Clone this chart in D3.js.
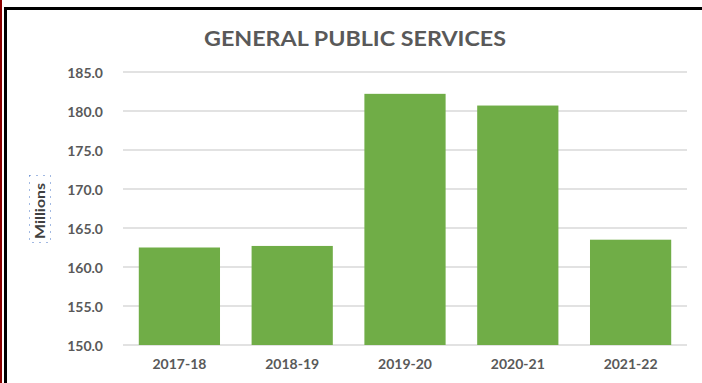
<!DOCTYPE html>
<html>
<head>
<meta charset="utf-8">
<script src="https://cdn.jsdelivr.net/npm/d3@7"></script>
<style>
  body { margin: 0; background: #fff; }
  text { font-family: Lato, "Liberation Sans", sans-serif; font-weight: bold; fill: #595959; }
</style>
</head>
<body>
<script>
// Width and height
var w = 702;
var h = 383;

// Data
var years = ["2017-18", "2018-19", "2019-20", "2020-21", "2021-22"];
var spending = [162.5, 162.7, 182.2, 180.7, 163.5];
var tickValues = [150, 155, 160, 165, 170, 175, 180, 185];

var svg = d3.select("body").append("svg").attr("width", w).attr("height", h);

// Frame (red and black edges on the left, black on top)
svg.append("rect").attr("x", 0).attr("y", 0).attr("width", 2).attr("height", h).attr("fill", "#8b0000");
svg.append("rect").attr("x", 4).attr("y", 7).attr("width", 3).attr("height", h - 7).attr("fill", "#000");
svg.append("rect").attr("x", 4).attr("y", 7).attr("width", w - 4).attr("height", 3).attr("fill", "#000");

var xScale = d3.scaleBand().domain(years).range([123, 687]).paddingInner(0.28).paddingOuter(0.14);
var yScale = d3.scaleLinear().domain([150, 185]).range([345, 72]);

// Gridlines
svg.append("g")
  .selectAll("line")
  .data(tickValues)
  .enter()
  .append("line")
  .attr("x1", 123)
  .attr("x2", 687)
  .attr("y1", function (d) { return yScale(d); })
  .attr("y2", function (d) { return yScale(d); })
  .attr("stroke", "#d9d9d9")
  .attr("stroke-width", 1.5);

// Bars
svg.append("g")
  .selectAll("rect")
  .data(spending)
  .enter()
  .append("rect")
  .attr("x", function (d, i) { return xScale(years[i]); })
  .attr("y", function (d) { return yScale(d); })
  .attr("width", xScale.bandwidth())
  .attr("height", function (d) { return yScale(150) - yScale(d); })
  .attr("fill", "#70ad47");

// Y axis
var yAxis = d3.axisLeft(yScale).tickValues(tickValues).tickFormat(d3.format(".1f")).tickSize(0).tickPadding(0);
var gy = svg.append("g").attr("transform", "translate(103,0)").call(yAxis);
gy.select(".domain").remove();
gy.selectAll("text").attr("font-size", 14).attr("font-family", null).attr("fill", null).attr("dy", "0.36em");

// X axis
var xAxis = d3.axisBottom(xScale).tickSize(0).tickPadding(0);
var gx = svg.append("g").attr("transform", "translate(0,359)").call(xAxis);
gx.select(".domain").remove();
gx.selectAll("text").attr("font-size", 14).attr("font-family", null).attr("fill", null).attr("dy", "0.71em");

// Title
svg.append("text")
  .attr("x", 355)
  .attr("y", 46)
  .attr("text-anchor", "middle")
  .attr("font-size", 20)
  .attr("textLength", 302)
  .attr("lengthAdjust", "spacingAndGlyphs")
  .text("GENERAL PUBLIC SERVICES");

// Axis title with dotted selection box
svg.append("rect")
  .attr("x", 29.5).attr("y", 175.5).attr("width", 21).attr("height", 67)
  .attr("fill", "none").attr("stroke", "#4472c4").attr("stroke-width", 1)
  .attr("stroke-dasharray", "1,6");
svg.append("text")
  .attr("transform", "translate(45,211) rotate(-90)")
  .attr("text-anchor", "middle")
  .attr("font-size", 13)
  .attr("textLength", 56)
  .attr("lengthAdjust", "spacingAndGlyphs")
  .style("fill", "#404040")
  .text("Millions");
</script>
</body>
</html>
